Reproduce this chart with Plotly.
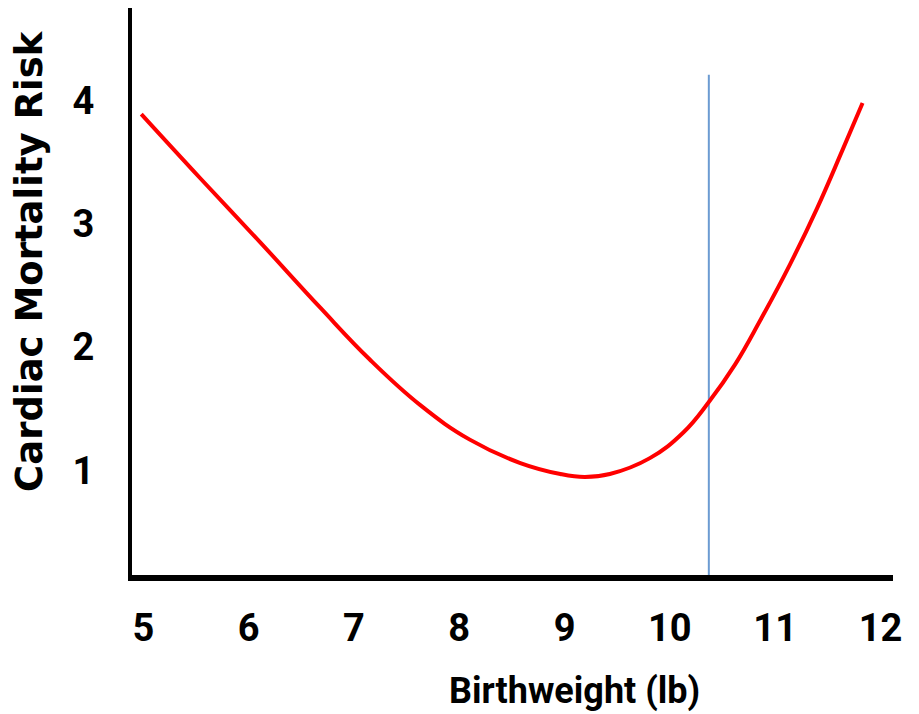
import plotly.graph_objects as go

# Data
birthweight = [4.98, 5.54, 6.11, 6.68, 7.15, 7.63, 8.10, 8.58, 8.96, 9.19,
               9.43, 9.81, 10.13, 10.37, 10.62, 10.86, 11.14, 11.40, 11.64, 11.83]
risk = [3.89, 3.37, 2.85, 2.32, 1.90, 1.53, 1.25, 1.06, 0.971, 0.947,
        0.971, 1.10, 1.31, 1.555, 1.86, 2.22, 2.67, 3.13, 3.60, 3.98]
cutoff_x = [10.37, 10.37]
cutoff_y = [0.15, 4.21]
x_ticks = [5, 6, 7, 8, 9, 10, 11, 12]
y_ticks = [1, 2, 3, 4]

tickfont = dict(family="Roboto, sans-serif", size=38, color="black", weight="bold")

fig = go.Figure()
fig.add_trace(go.Scatter(x=cutoff_x, y=cutoff_y, mode="lines",
                         line=dict(color="#6C9BD2", width=2), showlegend=False))
fig.add_trace(go.Scatter(x=birthweight, y=risk, mode="lines",
                         line=dict(color="#FF0000", width=4, shape="spline", smoothing=1.2),
                         showlegend=False))

fig.update_layout(
    width=911, height=706,
    margin=dict(l=124, r=26, t=0, b=139),
    paper_bgcolor="white", plot_bgcolor="white",
    xaxis=dict(range=[4.892, 12.119], tickvals=x_ticks, showgrid=False, zeroline=False,
               showline=True, linecolor="black", linewidth=6, ticks="",
               ticklabelstandoff=14, tickfont=tickfont),
    yaxis=dict(range=[0.152, 4.751], tickvals=y_ticks, showgrid=False, zeroline=False,
               showline=True, linecolor="black", linewidth=4, ticks="",
               ticklabelstandoff=26, tickfont=tickfont),
    annotations=[
        dict(text="<b>Birthweight (lb)</b>", xref="paper", yref="paper", x=0.582, y=-0.2046,
             xanchor="center", yanchor="middle", showarrow=False,
             font=dict(family="Roboto, sans-serif", size=36, color="black")),
        dict(text="<b>Cardiac Mortality Risk</b>", xref="paper", yref="paper",
             x=-0.134, y=0.554, xanchor="center", yanchor="middle", textangle=-90,
             showarrow=False, font=dict(family="DejaVu Sans", size=37, color="black")),
    ],
)

fig.write_html("out.html")
